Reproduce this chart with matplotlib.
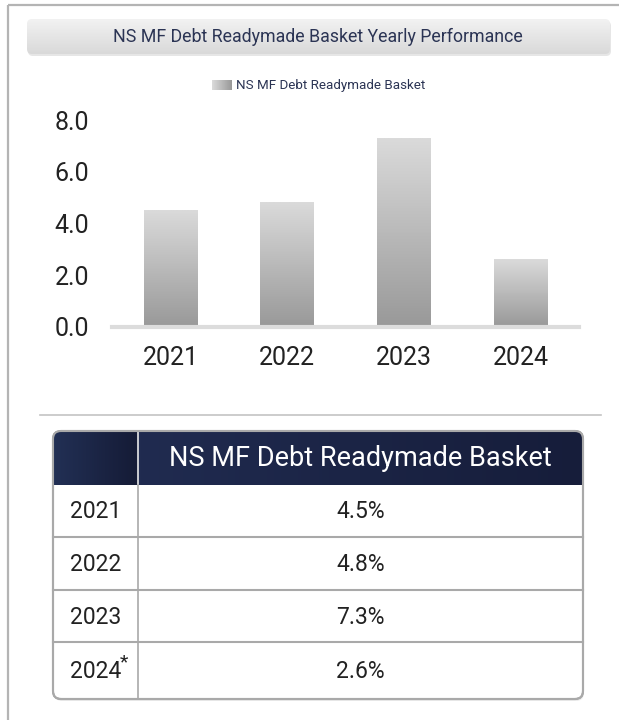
import matplotlib
matplotlib.use("Agg")
import matplotlib.pyplot as plt
import numpy as np
from matplotlib.colors import LinearSegmentedColormap
from matplotlib.patches import FancyBboxPatch

plt.rcParams['font.family'] = ['Roboto', 'DejaVu Sans']

# data
years = ['2021', '2022', '2023', '2024']
returns = [4.5, 4.8, 7.3, 2.6]
row_marks = ['', '', '', '*']
y_ticks = [0.0, 2.0, 4.0, 6.0, 8.0]
series_name = 'NS MF Debt Readymade Basket'
chart_title = 'NS MF Debt Readymade Basket Yearly Performance'

W, H = 619, 720
fig = plt.figure(figsize=(W / 100, H / 100), dpi=100)

# background layer in pixel coordinates
bg = fig.add_axes([0, 0, 1, 1], zorder=0)
bg.set_xlim(0, W)
bg.set_ylim(H, 0)
bg.axis('off')

# outer frame (left + top)
bg.plot([8, 8], [5, H], color='#b4b4b4', lw=1.6, solid_capstyle='butt')
bg.plot([8, W], [5, 5], color='#b4b4b4', lw=1.6, solid_capstyle='butt')

# title box with vertical gradient
title_grad = LinearSegmentedColormap.from_list('tg', ['#f2f2f2', '#d9d9d9'])
shadow = FancyBboxPatch((28, 21), 583, 35, boxstyle='round,pad=0,rounding_size=5',
                        fc='#e6e6e6', ec='none', zorder=1)
bg.add_patch(shadow)
tbox = FancyBboxPatch((27, 19), 583, 35, boxstyle='round,pad=0,rounding_size=5',
                      fc='none', ec='none', zorder=2)
bg.add_patch(tbox)
im = bg.imshow(np.linspace(0, 1, 64).reshape(-1, 1), cmap=title_grad, aspect='auto',
               extent=[27, 610, 54, 19], zorder=2)
im.set_clip_path(tbox)
bg.text(318, 36.5, chart_title, ha='center', va='center', fontsize=12.8, color='#2b3454', zorder=3)

# legend
bar_grad = LinearSegmentedColormap.from_list('bg', ['#dadada', '#999999'])
bg.imshow(np.linspace(0, 1, 32).reshape(1, -1), cmap=bar_grad, aspect='auto',
          extent=[212, 232, 90, 80], zorder=2)
bg.text(236, 85, series_name, ha='left', va='center', fontsize=9.6, color='#2b3454')

# bar chart
ax = fig.add_axes([112 / W, 1 - 327 / H, (579 - 112) / W, (327 - 120) / H], zorder=1)
ax.patch.set_alpha(0)
x = np.arange(len(years))
bars = ax.bar(x, returns, width=0.46, color='none', edgecolor='none')
grad = np.linspace(0, 1, 64).reshape(-1, 1)
for b in bars:
    x0, w, h = b.get_x(), b.get_width(), b.get_height()
    ax.imshow(grad, cmap=bar_grad, aspect='auto', extent=[x0, x0 + w, 0, h], zorder=2)
ax.set_xlim(-0.5, 3.5)
ax.set_ylim(0, 8)
ax.set_xticks(x)
ax.set_xticklabels(years)
ax.set_yticks(y_ticks)
ax.set_yticklabels([f'{v:.1f}' for v in y_ticks])
ax.tick_params(axis='y', length=0, pad=16.5, labelsize=18, labelcolor='#222222')
ax.tick_params(axis='x', length=0, pad=14, labelsize=18, labelcolor='#222222')
for s in ['top', 'right', 'left']:
    ax.spines[s].set_visible(False)
ax.spines['bottom'].set_color('#dcdcdc')
ax.spines['bottom'].set_linewidth(3)

# separator
bg.plot([40, 601], [415, 415], color='#c4c4c4', lw=1.2)

# table
tl, tr, tt, tb = 53, 583, 431, 699
col_div = 138
row_lines = [485, 537, 590, 642]
row_bottoms = row_lines[1:] + [tb]

tshadow = FancyBboxPatch((tl + 1, tt + 2), tr - tl, tb - tt, boxstyle='round,pad=0,rounding_size=8',
                         fc='#ececec', ec='none', zorder=1)
bg.add_patch(tshadow)
table = FancyBboxPatch((tl, tt), tr - tl, tb - tt, boxstyle='round,pad=0,rounding_size=8',
                       fc='white', ec='#a9a9a9', lw=1.5, zorder=2)
bg.add_patch(table)
clip = FancyBboxPatch((tl, tt), tr - tl, tb - tt, boxstyle='round,pad=0,rounding_size=8',
                      fc='none', ec='none', transform=bg.transData)

head_main = LinearSegmentedColormap.from_list('hm', ['#202b50', '#161d3a'])
head_first = LinearSegmentedColormap.from_list('hf', ['#223055', '#151b36'])
hgrad = np.linspace(0, 1, 128).reshape(1, -1)
im1 = bg.imshow(hgrad, cmap=head_first, aspect='auto', extent=[tl, col_div, row_lines[0], tt], zorder=3)
im1.set_clip_path(clip)
im2 = bg.imshow(hgrad, cmap=head_main, aspect='auto', extent=[col_div, tr, row_lines[0], tt], zorder=3)
im2.set_clip_path(clip)
bg.plot([col_div, col_div], [tt, row_lines[0]], color='#e8e8e8', lw=1.2, zorder=4)
bg.text((col_div + tr) / 2, (tt + row_lines[0]) / 2 + 1, series_name, ha='center', va='center',
        fontsize=19.5, color='white', zorder=5)

# grid lines of body
for yl in row_lines[1:]:
    bg.plot([tl, tr], [yl, yl], color='#a9a9a9', lw=1.5, zorder=4)
bg.plot([col_div, col_div], [row_lines[0], tb], color='#a9a9a9', lw=1.2, zorder=4)
# redraw outer border on top
border = FancyBboxPatch((tl, tt), tr - tl, tb - tt, boxstyle='round,pad=0,rounding_size=8',
                        fc='none', ec='#a9a9a9', lw=1.5, zorder=4)
bg.add_patch(border)

for yr, val, mark, top, bot in zip(years, returns, row_marks, row_lines, row_bottoms):
    yc = (top + bot) / 2 + 1
    bg.text((tl + col_div) / 2, yc, yr, ha='center', va='center', fontsize=16.5,
            color='#222222', zorder=5)
    if mark:
        bg.text((tl + col_div) / 2 + 24.5, yc - 9, mark, ha='left', va='center', fontsize=14,
                color='#222222', zorder=5)
    bg.text((col_div + tr) / 2, yc, f'{val:.1f}%', ha='center', va='center', fontsize=16.5,
            color='#222222', zorder=5)

fig.savefig('out.png', dpi=100)
